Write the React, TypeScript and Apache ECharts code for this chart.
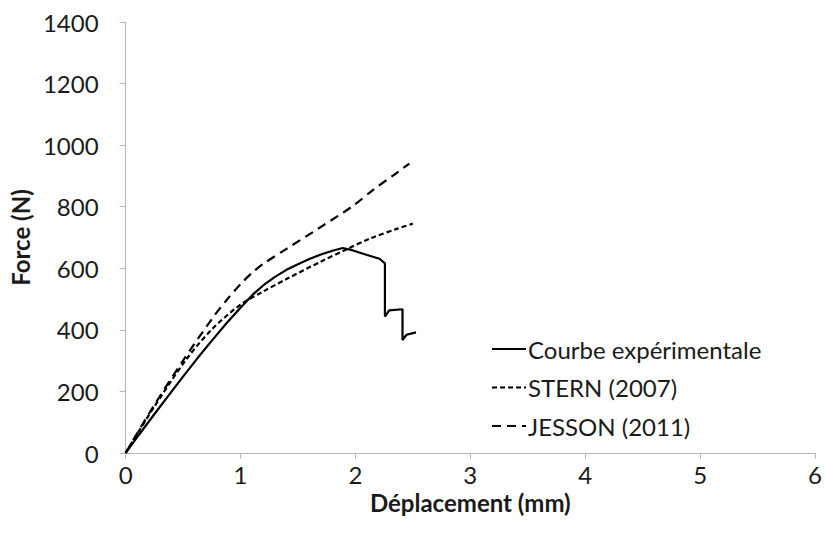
import React, { useEffect, useRef } from "react";
import * as echarts from "echarts";

const xTicks = [0, 1, 2, 3, 4, 5, 6];
const yTicks = [0, 200, 400, 600, 800, 1000, 1200, 1400];

const seriesNames = ["Courbe expérimentale", "STERN (2007)", "JESSON (2011)"];

const expX = [0, 0.12, 0.24, 0.37, 0.5, 0.63, 0.76, 0.88, 1.0, 1.1, 1.2, 1.3, 1.4, 1.5, 1.6, 1.7, 1.8, 1.89, 1.98, 2.06, 2.13, 2.21, 2.257, 2.257, 2.294, 2.41, 2.41, 2.445, 2.527];
const expY = [0, 61, 121, 185, 248, 310, 369, 422, 472, 512, 545, 572, 595, 613, 630, 645, 657, 666, 658, 648, 640, 631, 616, 443, 463, 467, 367, 384, 392];

const sternX = [0, 0.24, 0.53, 0.76, 1.0, 1.2, 1.4, 1.69, 1.92, 2.13, 2.36, 2.5];
const sternY = [0, 145, 305, 405, 482, 525, 565, 620, 661, 697, 728, 745];

const jessonX = [0, 0.24, 0.5, 0.76, 0.88, 1.0, 1.1, 1.2, 1.4, 1.69, 1.98, 2.155, 2.33, 2.47];
const jessonY = [0, 150, 300, 440, 497, 548, 585, 615, 663, 732, 803, 855, 902, 940];

const zip = (xs: number[], ys: number[]) => xs.map((x, i) => [x, ys[i]]);

export default function App() {
  const ref = useRef<HTMLDivElement>(null);
  useEffect(() => {
    if (!ref.current) return;
    const chart = echarts.init(ref.current, null, { renderer: "svg" });
    const font = "Lato";
    const txt = "#1a1a1a";
    const axisGray = "#b8b8b8";
    chart.setOption({
      animation: false,
      backgroundColor: "#ffffff",
      textStyle: { fontFamily: font },
      grid: { left: 125, right: 9, top: 22, bottom: 92, containLabel: false },
      legend: {
        orient: "vertical",
        left: 491,
        top: 336,
        padding: 0,
        itemWidth: 34,
        itemHeight: 14,
        itemGap: 12.5,
        itemStyle: { opacity: 0 },
        textStyle: { fontSize: 24, color: txt, fontFamily: font, lineHeight: 26, padding: [0, 0, 0, -3] },
        data: seriesNames,
      },
      xAxis: {
        type: "value",
        min: xTicks[0],
        max: xTicks[xTicks.length - 1],
        interval: 1,
        name: "Déplacement (mm)",
        nameLocation: "middle",
        nameGap: 33,
        nameTextStyle: { fontSize: 24, fontWeight: "bold", color: txt, fontFamily: font },
        axisLine: { show: true, lineStyle: { color: axisGray, width: 1 } },
        axisTick: { show: true, length: 6, lineStyle: { color: axisGray } },
        axisLabel: { fontSize: 24, color: txt, margin: 9, fontFamily: font, formatter: (v: number) => String(v) },
        splitLine: { show: false },
      },
      yAxis: {
        type: "value",
        min: yTicks[0],
        max: yTicks[yTicks.length - 1],
        interval: 200,
        name: "Force (N)",
        nameLocation: "middle",
        nameGap: 83,
        nameTextStyle: { fontSize: 24, fontWeight: "bold", color: txt, fontFamily: font },
        axisLine: { show: true, lineStyle: { color: axisGray, width: 1 } },
        axisTick: { show: true, length: 6, lineStyle: { color: axisGray } },
        axisLabel: { fontSize: 24, color: txt, margin: 27, fontFamily: font, formatter: (v: number) => String(v) },
        splitLine: { show: false },
      },
      series: [
        {
          name: seriesNames[0],
          type: "line",
          data: zip(expX, expY),
          symbol: "none",
          smooth: false,
          lineStyle: { color: "#000", width: 2.2, type: "solid" },
          itemStyle: { color: "#000" },
        },
        {
          name: seriesNames[1],
          type: "line",
          data: zip(sternX, sternY),
          symbol: "none",
          smooth: 0.3,
          lineStyle: { color: "#000", width: 2.2, type: [5, 3] },
          itemStyle: { color: "#000" },
        },
        {
          name: seriesNames[2],
          type: "line",
          data: zip(jessonX, jessonY),
          symbol: "none",
          smooth: 0.3,
          lineStyle: { color: "#000", width: 2.2, type: [9, 6] },
          itemStyle: { color: "#000" },
        },
      ],
    });
    return () => chart.dispose();
  }, []);
  return <div ref={ref} style={{ width: 825, height: 545, position: "absolute", left: 0, top: 0 }} />;
}
